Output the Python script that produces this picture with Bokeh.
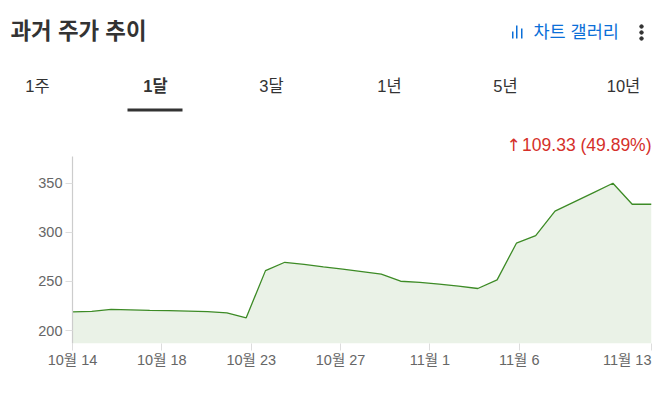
from bokeh.plotting import figure
from bokeh.layouts import column
from bokeh.models import FixedTicker, Range1d
from bokeh.core.properties import value
from bokeh.embed import file_html
from bokeh.resources import INLINE

FONT = "Liberation Sans, Noto Sans CJK KR"

days = list(range(31))
prices = [219, 219.5, 221.5, 221, 220.5, 220.2, 219.7, 219.2, 218, 213, 261, 269.5,
          267.3, 264.8, 262.5, 260, 257.5, 250.2, 249, 247.3, 245.2, 242.8, 251.6,
          288.9, 296.7, 321.5, 331, 340.5, 350, 328.6, 328.6]
y_ticks = [200, 250, 300, 350]
x_tick_pos = [0, 4.63, 9.26, 13.89, 18.52, 23.15, 30]
x_tick_labels = ["10월 14", "10월 18", "10월 23", "10월 27", "11월 1", "11월 6", "11월 13"]
title = "과거 주가 추이"
gallery = "차트 갤러리"
tabs = ["1주", "1달", "3달", "1년", "5년", "10년"]
tab_x = [37, 155, 271, 389, 505, 623]
change = "109.33 (49.89%)"

# header: coordinates are page pixels
h = figure(width=667, height=156, output_backend="svg", toolbar_location=None,
           x_range=Range1d(0, 667), y_range=Range1d(156, 0), frame_align=False,
           min_border=0, outline_line_color=None)
h.axis.visible = False
h.grid.visible = False
f = value(FONT)
h.text([10], [31], text=[title], text_font=f, text_font_size="22.4px", text_font_style="bold",
       text_color="#333333", text_align="left", text_baseline="middle")
h.text([533], [31], text=[gallery], text_font=f, text_font_size="17.5px",
       text_color="#0b6fd8", text_align="left", text_baseline="middle")
h.quad(left=[511.5, 515.5, 520.5], right=[513, 517, 522], top=[31, 25, 28], bottom=[38, 38, 38],
       fill_color="#0b6fd8", line_color=None)
h.scatter([641, 641, 641], [26, 32, 38], size=3.5, color="#333333")
for t, x, b in zip(tabs, tab_x, [0, 1, 0, 0, 0, 0]):
    h.text([x], [85], text=[t], text_font=f, text_font_size="16.5px", text_color="#333333",
           text_font_style="bold" if b else "normal", text_align="center", text_baseline="middle")
h.quad(left=[127], right=[182], top=[108], bottom=[111], fill_color="#333333", line_color=None)
h.text([651], [144], text=[change], text_font=f, text_font_size="17.5px", text_color="#d5302a",
       text_align="right", text_baseline="middle")
h.text([513], [144], text=["↑"], text_font=value("DejaVu Sans"), text_font_size="17px", text_color="#d5302a",
       text_align="center", text_baseline="middle")

# chart
p = figure(width=667, height=196, output_backend="svg", toolbar_location=None,
           x_range=Range1d(0, 30), y_range=Range1d(186.8, 377.2), frame_align=False,
           min_border_left=72, min_border_right=16, min_border_top=0, min_border_bottom=9,
           outline_line_color=None)
p.grid.visible = False
p.varea(days, [186.8] * len(days), prices, fill_color="#eaf2e7")
p.line(days, prices, line_color="#3d8b26", line_width=1.3)

ya = p.yaxis[0]
ya.ticker = FixedTicker(ticks=y_ticks)
ya.axis_line_color = "#cccccc"
ya.axis_line_width = 1.2
ya.major_tick_line_color = "#dddddd"
ya.major_tick_in = 0
ya.major_tick_out = 7
ya.minor_tick_line_color = None
ya.major_label_text_font = FONT
ya.major_label_text_font_size = "14.5px"
ya.major_label_text_color = "#666666"
ya.major_label_standoff = 3

xa = p.xaxis[0]
xa.ticker = FixedTicker(ticks=x_tick_pos)
xa.axis_line_color = None
xa.major_tick_line_color = "#dddddd"
xa.major_tick_in = 0
xa.major_tick_out = 7
xa.minor_tick_line_color = None
xa.major_label_text_font_size = "0px"
xa.major_label_standoff = 0
xa.major_label_overrides = {k: "" for k in x_tick_pos}

# x tick labels live in a strip below, on the same day scale as the chart,
# because the last one is right-aligned to the edge of the plot
px_per_day = 579 / 30
foot = figure(width=667, height=59, output_backend="svg", toolbar_location=None,
              x_range=Range1d(-72 / px_per_day, 595 / px_per_day), y_range=Range1d(59, 0),
              frame_align=False, min_border=0, outline_line_color=None)
foot.axis.visible = False
foot.grid.visible = False
foot.text(x_tick_pos, [7.5] * len(x_tick_pos), text=x_tick_labels, text_font=f, text_font_size="14.5px",
          text_color="#666666", text_baseline="middle",
          text_align=["center"] * (len(x_tick_pos) - 1) + ["right"])

layout = column(h, p, foot, spacing=0)
open("out.html", "w").write(file_html(layout, INLINE))
